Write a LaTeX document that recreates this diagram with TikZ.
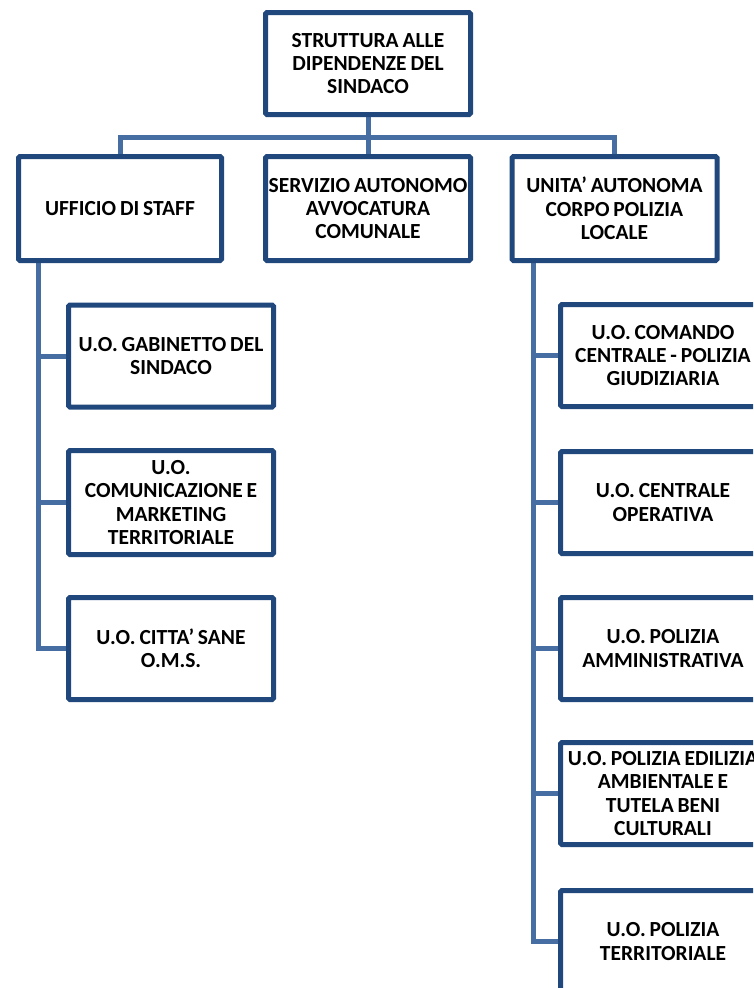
\documentclass[tikz,border=0pt]{standalone}
\usepackage{fontspec}
\setmainfont{Carlito}
\usetikzlibrary{backgrounds}
\definecolor{boxblue}{RGB}{33,72,124}
\definecolor{connblue}{RGB}{70,110,163}
\newcommand{\orgfont}{\fontsize{21.5}{23.3}\selectfont\bfseries\spaceskip=0.18em plus 0.05em minus 0.05em\relax}
\begin{document}
\begin{tikzpicture}[x=1pt,y=-1pt,
  orgbox/.style={draw=boxblue,line width=5pt,fill=white,rounded corners=1.5pt,
    minimum width=205pt,minimum height=102pt,inner sep=0pt,align=center,
    font=\orgfont},
  conn/.style={draw=connblue,line width=5pt}]
\useasboundingbox (0,0) rectangle (753,988);
\clip (0,0) rectangle (753,988);
% top
\node[orgbox] (top) at (368,63.5) {STRUTTURA ALLE\\DIPENDENZE DEL\\SINDACO};
% level 2
\node[orgbox,minimum width=203pt,minimum height=104pt] (uff) at (120,208.5) {UFFICIO DI STAFF};
\node[orgbox,minimum height=104pt] (serv) at (368,208.5) {SERVIZIO AUTONOMO\\AVVOCATURA\\COMUNALE};
\node[orgbox,minimum height=104pt] (unita) at (614.5,208.5) {UNITA' AUTONOMA\\CORPO POLIZIA\\LOCALE};
% left children
\node[orgbox] (g1) at (171,356) {U.O. GABINETTO DEL\\SINDACO};
\node[orgbox,minimum height=104pt] (g2) at (171,502.5) {U.O.\\COMUNICAZIONE E\\MARKETING\\TERRITORIALE};
\node[orgbox,minimum height=102pt] (g3) at (171,648.5) {U.O. CITTA' SANE\\O.M.S.};
% right children
\node[orgbox] (p1) at (663,355.5) {U.O. COMANDO\\CENTRALE - POLIZIA\\GIUDIZIARIA};
\node[orgbox] (p2) at (663,502.5) {U.O. CENTRALE\\OPERATIVA};
\node[orgbox] (p3) at (663,648.5) {U.O. POLIZIA\\AMMINISTRATIVA};
\node[orgbox] (p4) at (663,793.5) {U.O. POLIZIA EDILIZIA\\AMBIENTALE E\\TUTELA BENI\\CULTURALI};
\node[orgbox] (p5) at (663,941.5) {U.O. POLIZIA\\TERRITORIALE};
\coordinate (bus) at (0,137);
\coordinate (lv) at (38,0);
\coordinate (rv) at (533,0);
\begin{scope}[on background layer]
  \draw[conn] (top.south) -- (serv.north);
  \draw[conn] (uff.north) -- (uff.north |- bus) -- (unita.north |- bus) -- (unita.north);
  \draw[conn] (lv |- uff.south) -- (lv |- g3.west) -- (g3.west);
  \draw[conn] (lv |- g1.west) -- (g1.west);
  \draw[conn] (lv |- g2.west) -- (g2.west);
  \draw[conn] (rv |- unita.south) -- (rv |- p5.west) -- (p5.west);
  \draw[conn] (rv |- p1.west) -- (p1.west);
  \draw[conn] (rv |- p2.west) -- (p2.west);
  \draw[conn] (rv |- p3.west) -- (p3.west);
  \draw[conn] (rv |- p4.west) -- (p4.west);
\end{scope}
\end{tikzpicture}
\end{document}
